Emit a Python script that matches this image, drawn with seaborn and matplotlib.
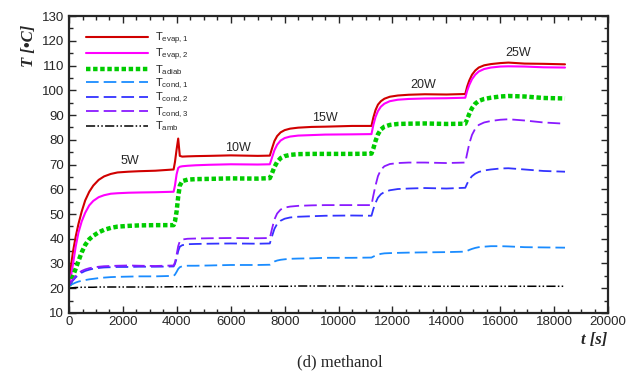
import matplotlib
matplotlib.use("Agg")
import matplotlib.pyplot as plt
import seaborn as sns
import pandas as pd
from matplotlib.ticker import MultipleLocator

# Sample times [s]
t = [0, 60, 150, 250, 350, 470, 600, 750, 900, 1100, 1300, 1550, 1800, 2200, 2600, 3200, 3880,
     3930, 3990, 4050, 4110, 4200, 4400, 4700, 5200, 6000, 7000, 7450,
     7530, 7620, 7720, 7850, 8000, 8200, 8500, 9000, 9500, 10500, 11220,
     11290, 11370, 11460, 11570, 11700, 11900, 12200, 12600, 13200, 14000, 14700,
     14770, 14850, 14950, 15070, 15200, 15400, 15650, 16000, 16300, 16900, 17600, 18400]

# Temperatures [°C]
t_evap1 = [22, 28, 35, 41, 46, 51, 55.5, 59, 61.5, 63.8, 65.2, 66.2, 66.8, 67.1, 67.3, 67.5, 68,
           71, 76, 80.5, 73.5, 73.2, 73.3, 73.4, 73.5, 73.7, 73.5, 73.6,
           76.5, 79.5, 81.5, 83, 83.9, 84.5, 84.9, 85.2, 85.3, 85.6, 85.6,
           89, 92, 94.2, 95.6, 96.6, 97.4, 97.9, 98.2, 98.4, 98.3, 98.5,
           101.5, 104, 106.3, 108, 109.2, 110.1, 110.6, 111, 111.2, 110.8, 110.7, 110.5]
t_evap2 = [21, 24, 30, 37, 42.5, 47, 50.5, 53.5, 55.3, 56.8, 57.6, 58.2, 58.4, 58.6, 58.7, 58.8, 59,
           61.5, 66, 68.6, 69.1, 69.3, 69.5, 69.7, 69.9, 70.1, 70, 70.1,
           72.8, 75.8, 78, 79.7, 80.7, 81.3, 81.7, 81.9, 82.1, 82.2, 82.3,
           86, 89.2, 91.6, 93.4, 94.6, 95.6, 96.2, 96.5, 96.7, 96.8, 97,
           99.8, 102.2, 104.5, 106.3, 107.6, 108.6, 109.2, 109.6, 109.7, 109.6, 109.3, 109.2]
t_adiab = [21, 22.5, 25, 28, 31, 34.5, 37.5, 39.8, 41.2, 42.6, 43.6, 44.4, 44.9, 45.2, 45.4, 45.5, 45.5,
           47, 51, 57, 61.5, 63.3, 63.9, 64.1, 64.2, 64.4, 64.3, 64.5,
           66.5, 69, 71, 72.6, 73.4, 73.9, 74.2, 74.3, 74.3, 74.3, 74.4,
           76.5, 79.5, 82.2, 84.2, 85.3, 86, 86.4, 86.5, 86.6, 86.4, 86.5,
           88.3, 90.5, 92.8, 94.6, 95.7, 96.5, 97, 97.5, 97.7, 97.5, 96.9, 96.7]
t_cond1 = [21, 21.3, 21.8, 22.3, 22.7, 23.0, 23.3, 23.6, 23.8, 24.1, 24.3, 24.5, 24.6, 24.7, 24.8, 24.8, 25,
           25.5, 26.6, 27.8, 28.5, 28.9, 29.1, 29.1, 29.2, 29.4, 29.4, 29.5,
           30.2, 30.8, 31.2, 31.5, 31.7, 31.9, 32, 32.1, 32.3, 32.3, 32.4,
           32.8, 33.2, 33.6, 33.9, 34.1, 34.2, 34.3, 34.4, 34.5, 34.6, 34.8,
           35.1, 35.5, 35.9, 36.3, 36.6, 36.8, 37, 37, 36.9, 36.6, 36.5, 36.4]
t_cond2 = [21, 22, 23.2, 24.4, 25.4, 26.3, 27, 27.5, 27.9, 28.2, 28.4, 28.5, 28.6, 28.6, 28.7, 28.7, 28.8,
           29.8, 32, 35, 36.8, 37.4, 37.8, 37.9, 38, 38.1, 38, 38.1,
           41, 44, 46, 47.3, 48.1, 48.6, 48.9, 49.1, 49.3, 49.4, 49.3,
           52, 54.5, 56.6, 58, 58.9, 59.6, 60.1, 60.3, 60.5, 60.3, 60.6,
           62.3, 64, 65.3, 66.3, 67, 67.6, 68, 68.4, 68.5, 68, 67.4, 67.1]
t_cond3 = [21, 22.2, 23.6, 25, 26.1, 27, 27.6, 28.1, 28.4, 28.7, 28.9, 29, 29.1, 29.2, 29.1, 29, 29.2,
           30.5, 33.5, 37, 39, 39.7, 40, 40.1, 40.2, 40.3, 40.2, 40.3,
           44, 47.8, 50.2, 51.8, 52.6, 53, 53.3, 53.5, 53.6, 53.6, 53.6,
           57.5, 61.5, 65.3, 67.9, 69.3, 70.2, 70.6, 70.8, 70.8, 70.6, 70.8,
           74.5, 78.5, 82, 84.5, 86, 87, 87.6, 88.1, 88.3, 87.8, 87, 86.5]
t_amb = [20.0, 20.1, 20.2, 20.3, 20.3, 20.4, 20.4, 20.4, 20.4, 20.5, 20.5, 20.5, 20.5, 20.5, 20.5, 20.5, 20.6,
         20.6, 20.6, 20.6, 20.6, 20.6, 20.6, 20.7, 20.7, 20.7, 20.8, 20.8,
         20.8, 20.8, 20.8, 20.8, 20.8, 20.8, 20.9, 20.9, 20.9, 20.9, 20.8,
         20.8, 20.8, 20.8, 20.8, 20.8, 20.8, 20.8, 20.8, 20.8, 20.8, 20.8,
         20.8, 20.8, 20.8, 20.8, 20.8, 20.8, 20.8, 20.8, 20.8, 20.8, 20.8, 20.8]

labels = [r"T$_{\rm evap,1}$", r"T$_{\rm evap,2}$", r"T$_{\rm adiab}$",
          r"T$_{\rm cond,1}$", r"T$_{\rm cond,2}$", r"T$_{\rm cond,3}$",
          r"T$_{\rm amb}$"]

power_labels = ["5W", "10W", "15W", "20W", "25W"]
power_pos = [(2250, 71.3), (6250, 76.8), (9500, 88.8), (13150, 102.3), (16650, 115.0)]

sns.set_style("ticks")
plt.rcParams["font.family"] = ["Liberation Sans", "DejaVu Sans"]
plt.rcParams["mathtext.fontset"] = "custom"
plt.rcParams["mathtext.rm"] = "Liberation Sans"
plt.rcParams["mathtext.it"] = "Liberation Sans:italic"

fig = plt.figure(figsize=(6.35, 3.73), dpi=100)
ax = fig.add_axes([0.1087, 0.1609, 0.849, 0.796])

series = [t_evap1, t_evap2, t_adiab, t_cond1, t_cond2, t_cond3, t_amb]
styles = [
    dict(color="#d00000", linestyle="-", lw=1.5),
    dict(color="#ff00ff", linestyle="-", lw=1.5),
    dict(color="#00cc00", linestyle=(0, (1, 0.6)), lw=3.2, dash_capstyle="butt"),
    dict(color="#1a8cff", linestyle=(0, (7, 2.8)), lw=1.3),
    dict(color="#3333ff", linestyle=(0, (7, 2.8)), lw=1.3),
    dict(color="#8a1aff", linestyle=(0, (7, 2.8)), lw=1.3),
    dict(color="black", linestyle=(0, (6, 1.5, 1, 1.5, 1, 1.5)), lw=1.1),
]

for vals, lab, st in zip(series, labels, styles):
    df = pd.DataFrame({"t": t, "T": vals})
    sns.lineplot(data=df, x="t", y="T", ax=ax, label=lab, **st)

for txt, (px, py) in zip(power_labels, power_pos):
    ax.text(px, py, txt, ha="center", va="center", fontsize=9)

ax.set_xlim(0, 20000)
ax.set_ylim(10, 130)
ax.xaxis.set_major_locator(MultipleLocator(2000))
ax.xaxis.set_minor_locator(MultipleLocator(500))
ax.yaxis.set_major_locator(MultipleLocator(10))
ax.yaxis.set_minor_locator(MultipleLocator(5))
ax.tick_params(which="both", direction="in", top=True, right=True, labelsize=9.5, width=1.0)
ax.tick_params(which="major", length=5)
ax.tick_params(which="minor", length=3)
ax.tick_params(axis="x", pad=2)
for sp in ax.spines.values():
    sp.set_linewidth(1.6)

ax.set_xlabel("")
ax.set_ylabel("")
fig.text(0.045, 0.877, "T [•C]", rotation=90, ha="center", va="center",
         fontsize=12, fontweight="bold", fontstyle="italic", family="Liberation Serif")
fig.text(0.957, 0.088, "t [s]", ha="right", va="center",
         fontsize=12, fontweight="bold", fontstyle="italic", family="Liberation Serif")
fig.text(0.535, 0.028, "(d) methanol", ha="center", va="center",
         fontsize=12, family="Liberation Serif")

leg = ax.legend(loc="upper left", bbox_to_anchor=(0.02, 0.975), frameon=False,
                handlelength=5.5, handletextpad=0.65, labelspacing=0.0, fontsize=8,
                borderaxespad=0.2)

fig.savefig("out.png", dpi=100)
